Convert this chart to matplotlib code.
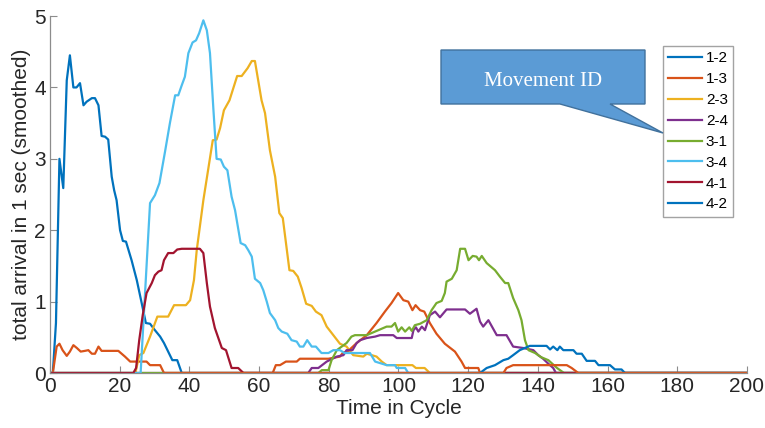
import matplotlib
matplotlib.use("Agg")
import matplotlib.pyplot as plt
from matplotlib.patches import Polygon

# arrivals per movement, (cycle, smoothed count) breakpoints
m12_x = [0, 0.8, 1.7, 2.7, 3.8, 4.8, 5.7, 6.7, 7.6, 8.6, 9.6, 10.5, 12.0, 12.9, 13.9, 14.8,
         15.8, 16.7, 17.7, 18.4, 19.1, 20.1, 20.9, 21.8, 23.4, 24.9, 26.3, 27.5, 28.7, 30.1,
         31.6, 32.7, 33.9, 35.1, 36.5, 37.8, 200]
m12_y = [0, 0, 0.7, 3.0, 2.59, 4.1, 4.45, 4.0, 4.0, 4.06, 3.75, 3.8, 3.85, 3.85, 3.75, 3.32,
         3.31, 3.27, 2.75, 2.56, 2.42, 2.0, 1.85, 1.84, 1.58, 1.3, 0.98, 0.70, 0.69, 0.60,
         0.51, 0.42, 0.30, 0.18, 0.18, 0, 0]

m13_x = [0, 0.8, 1.9, 2.7, 3.6, 4.8, 5.7, 6.7, 7.7, 8.8, 10.0, 11.0, 12.0, 12.9, 13.9, 14.8,
         19.6, 21.5, 23.0, 27.7, 28.7, 31.6, 32.7, 63.9, 64.8, 66.0, 67.7, 70.8, 71.7, 79.9,
         83.2, 84.0, 85.6, 88.0, 90.9, 93.7, 96.1, 98.0, 99.9, 101.4, 102.8, 104.0, 104.9,
         106.2, 107.4, 109.0, 110.9, 113.3, 116.2, 118.1, 119.1, 122.9, 123.4, 200]
m13_y = [0, 0, 0.37, 0.41, 0.32, 0.24, 0.30, 0.39, 0.35, 0.30, 0.31, 0.32, 0.27, 0.27, 0.37, 0.31,
         0.31, 0.23, 0.16, 0.16, 0.11, 0.11, 0, 0, 0.11, 0.11, 0.16, 0.16, 0.2, 0.2,
         0.23, 0.28, 0.31, 0.42, 0.53, 0.70, 0.86, 0.98, 1.12, 1.02, 1.0, 0.88, 0.95,
         0.88, 0.86, 0.70, 0.55, 0.41, 0.30, 0.16, 0.07, 0.07, 0, 0]

m23_x = [0, 24.5, 25.6, 26.8, 28.7, 30.8, 33.9, 35.6, 39.0, 40.2, 41.3, 42.1, 44.0, 46.7, 47.8,
         48.8, 49.9, 51.5, 52.6, 53.7, 55.0, 56.7, 57.9, 58.8, 60.7, 61.7, 63.1, 64.6, 65.8,
         66.8, 68.7, 69.8, 71.1, 72.2, 73.5, 75.1, 76.3, 77.9, 79.4, 81.3, 83.2, 85.1, 87.0,
         89.9, 90.9, 93.7, 95.2, 96.6, 104.0, 105.0, 107.5, 109.0, 200]
m23_y = [0, 0, 0.25, 0.28, 0.51, 0.79, 0.79, 0.95, 0.95, 1.02, 1.3, 1.72, 2.42, 3.26, 3.27,
         3.43, 3.68, 3.82, 3.99, 4.16, 4.16, 4.27, 4.37, 4.37, 3.82, 3.64, 3.12, 2.75, 2.24,
         2.17, 1.44, 1.43, 1.35, 1.19, 0.97, 0.94, 0.86, 0.81, 0.65, 0.53, 0.41, 0.37, 0.25,
         0.23, 0.27, 0.23, 0.16, 0.11, 0.11, 0.07, 0.07, 0, 0]

m24_x = [0, 74.1, 75.1, 77.0, 79.4, 82.3, 84.2, 85.1, 86.8, 88.0, 89.0, 90.9, 93.3, 94.7, 98.5,
         99.5, 103.8, 104.3, 105.0, 105.7, 106.7, 107.6, 109.0, 110.5, 111.9, 113.8, 119.1,
         120.5, 122.4, 123.4, 124.3, 125.8, 128.2, 131.0, 132.9, 135.8, 138.7, 140.1, 141.5,
         143.0, 144.4, 145.2, 200]
m24_y = [0, 0, 0.07, 0.07, 0.16, 0.23, 0.25, 0.32, 0.32, 0.42, 0.46, 0.49, 0.51, 0.53, 0.53,
         0.49, 0.49, 0.60, 0.64, 0.58, 0.65, 0.60, 0.81, 0.86, 0.78, 0.89, 0.89,
         0.83, 0.90, 0.72, 0.65, 0.74, 0.53, 0.53, 0.37, 0.35, 0.32, 0.25, 0.2,
         0.13, 0.07, 0, 0]

m31_x = [0, 77.0, 78.0, 79.9, 80.8, 82.3, 83.7, 85.1, 86.5, 87.5, 90.9, 92.3, 94.7, 96.6, 98.0,
         99.0, 99.9, 100.9, 101.9, 103.1, 103.8, 104.7, 106.2, 108.1, 109.5, 110.9, 112.4,
         113.3, 113.8, 115.3, 116.7, 117.7, 119.1, 120.1, 121.3, 122.4, 123.1, 123.9, 125.3,
         127.7, 129.1, 130.6, 131.5, 132.9, 134.4, 135.3, 136.3, 137.3, 139.2, 141.0, 143.0,
         145.5, 147.5, 200]
m31_y = [0, 0, 0.04, 0.04, 0.18, 0.32, 0.37, 0.42, 0.51, 0.53, 0.53, 0.56, 0.61, 0.65, 0.65,
         0.70, 0.58, 0.64, 0.58, 0.64, 0.59, 0.67, 0.69, 0.74, 0.88, 0.98, 1.01,
         1.12, 1.28, 1.32, 1.44, 1.74, 1.74, 1.58, 1.64, 1.63, 1.58, 1.64, 1.54,
         1.44, 1.35, 1.26, 1.26, 1.05, 0.88, 0.74, 0.46, 0.32, 0.28, 0.22, 0.18,
         0.07, 0, 0]

m34_x = [0, 26.0, 28.7, 30.1, 31.4, 33.0, 34.4, 35.9, 36.8, 37.8, 38.7, 39.7, 40.9, 41.9, 42.8,
         44.0, 45.0, 45.9, 46.9, 47.8, 49.0, 49.9, 50.9, 52.1, 53.1, 54.7, 56.0, 56.9, 57.9,
         58.8, 60.3, 61.2, 62.2, 63.1, 64.6, 65.5, 66.5, 68.1, 69.3, 70.8, 71.7, 72.7, 73.8,
         75.1, 76.3, 77.9, 79.9, 81.3, 83.2, 84.5, 91.8, 93.3, 96.6, 99.0, 99.5, 101.9, 102.8,
         200]
m34_y = [0, 0, 2.38, 2.49, 2.66, 3.1, 3.5, 3.89, 3.89, 4.03, 4.15, 4.48, 4.63, 4.66, 4.76,
         4.94, 4.8, 4.48, 3.68, 3.0, 2.99, 2.89, 2.84, 2.47, 2.28, 1.82, 1.79, 1.72, 1.63,
         1.32, 1.26, 1.16, 1.0, 0.84, 0.74, 0.63, 0.58, 0.55, 0.46, 0.44, 0.37, 0.37, 0.46,
         0.37, 0.37, 0.28, 0.28, 0.32, 0.32, 0.28, 0.28, 0.16, 0.11, 0.11, 0.07, 0.07, 0,
         0]

m41_x = [0, 23.9, 24.7, 25.6, 26.6, 27.7, 29.2, 30.1, 31.1, 32.0, 32.7, 33.9, 35.4, 36.5, 37.8,
         43.0, 44.0, 45.0, 45.9, 47.3, 48.3, 49.3, 50.5, 52.1, 54.0, 55.5, 200]
m41_y = [0, 0, 0.07, 0.46, 0.81, 1.12, 1.26, 1.37, 1.42, 1.44, 1.58, 1.68, 1.68, 1.73, 1.74,
         1.74, 1.68, 1.26, 0.93, 0.63, 0.49, 0.35, 0.32, 0.07, 0.07, 0, 0]

m42_x = [120, 123.4, 125.3, 127.7, 130.1, 131.5, 132.9, 134.8, 137.7, 142.5, 143.5, 144.4,
         145.6, 146.3, 147.3, 150.2, 151.1, 152.6, 154.0, 156.4, 157.4, 160.7, 162.1, 164.0,
         165.0, 200]
m42_y = [0, 0, 0.07, 0.11, 0.18, 0.2, 0.25, 0.32, 0.38, 0.38, 0.33, 0.37,
         0.32, 0.37, 0.32, 0.32, 0.27, 0.27, 0.17, 0.17, 0.11, 0.11, 0.05, 0.05,
         0, 0]

# ninth movement, not in the legend
m9_x = [32.7, 130.1, 131.0, 132.9, 148.3, 149.7, 151.6, 200]
m9_y = [0, 0, 0.07, 0.11, 0.11, 0.07, 0, 0]

labels = ["1-2", "1-3", "2-3", "2-4", "3-1", "3-4", "4-1", "4-2"]
series = [(m12_x, m12_y), (m13_x, m13_y), (m23_x, m23_y), (m24_x, m24_y),
          (m31_x, m31_y), (m34_x, m34_y), (m41_x, m41_y), (m42_x, m42_y)]
colors = ["#0072BD", "#D95319", "#EDB120", "#7E2F8E", "#77AC30", "#4DBEEE", "#A2142F", "#0072BD"]

sans = ["Liberation Sans Narrow", "Liberation Sans", "DejaVu Sans"]
plt.rcParams["font.family"] = sans

fig = plt.figure(figsize=(7.65, 4.28), dpi=100)
ax = fig.add_axes([0.0654, 0.1285, 0.911, 0.834])

for (x, y), lab, c in zip(series, labels, colors):
    ax.plot(x, y, color=c, lw=1.6, label=lab)
ax.plot(m9_x, m9_y, color="#D95319", lw=1.6, label="_nolegend_")

ax.set_xlim(0, 200)
ax.set_ylim(0, 5)
ax.set_xticks(range(0, 201, 20))
ax.set_yticks(range(0, 6))
for s in ["top", "right"]:
    ax.spines[s].set_visible(False)
for s in ["left", "bottom"]:
    ax.spines[s].set_color("#8c8c8c")
    ax.spines[s].set_linewidth(0.9)
ax.tick_params(direction="in", length=5, width=0.8, color="#8c8c8c",
               labelsize=15, labelcolor="#262626", pad=3)
ax.set_xlabel("Time in Cycle", fontsize=15, color="#262626", labelpad=2)
ax.set_ylabel("total arrival in 1 sec (smoothed)", fontsize=15, color="#262626", labelpad=2)

leg = ax.legend(loc="upper left", bbox_to_anchor=(663 / 765, 1 - 46 / 428),
                bbox_transform=fig.transFigure, fontsize=11, frameon=True, fancybox=False,
                handlelength=2.2, handletextpad=0.25, labelspacing=0.45, borderpad=0.35,
                borderaxespad=0)
leg.get_frame().set_edgecolor("#8c8c8c")
leg.get_frame().set_linewidth(1.0)

# callout box pointing at the legend
W, H = 765, 428
pts = [(441, 50), (645, 50), (645, 104), (610, 104), (663, 133), (560, 104), (441, 104)]
callout = Polygon([(px / W, 1 - py / H) for px, py in pts], closed=True,
                  transform=fig.transFigure, facecolor="#5B9BD5", edgecolor="#41719C", lw=1.0)
fig.patches.append(callout)
fig.text(543 / W, 1 - 82 / H, "Movement ID", family=["Liberation Serif", "DejaVu Serif"],
         fontsize=15, color="white", ha="center", va="center")

fig.savefig("out.png", dpi=100)
